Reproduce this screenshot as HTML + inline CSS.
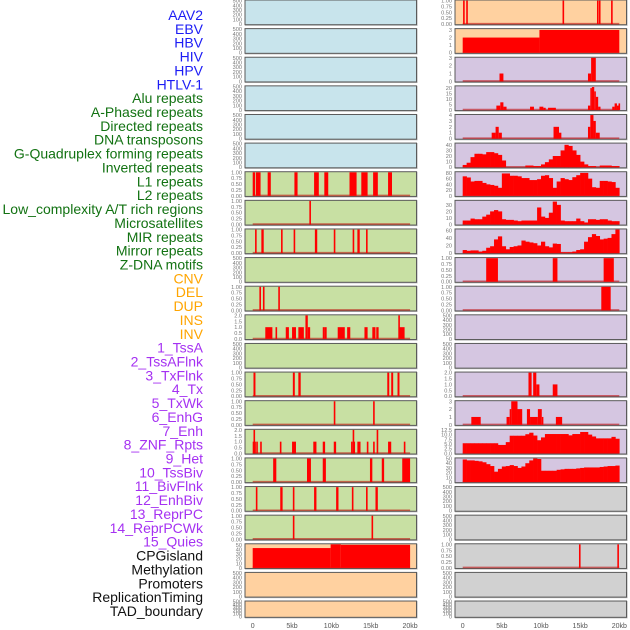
<!DOCTYPE html>
<html><head><meta charset="utf-8"><style>
html,body{margin:0;padding:0;background:#fff;width:630px;height:630px;overflow:hidden}
svg{display:block;font-family:"Liberation Sans",sans-serif}
</style></head><body>
<svg id="chart" width="630" height="630" viewBox="0 0 630 630"></svg>
<script>
// ---- data ----
const trackLabels = ["AAV2","EBV","HBV","HIV","HPV","HTLV-1","Alu repeats","A-Phased repeats","Directed repeats","DNA transposons","G-Quadruplex forming repeats","Inverted repeats","L1 repeats","L2 repeats","Low_complexity A/T rich regions","Microsatellites","MIR repeats","Mirror repeats","Z-DNA motifs","CNV","DEL","DUP","INS","INV","1_TssA","2_TssAFlnk","3_TxFlnk","4_Tx","5_TxWk","6_EnhG","7_Enh","8_ZNF_Rpts","9_Het","10_TssBiv","11_BivFlnk","12_EnhBiv","13_ReprPC","14_ReprPCWk","15_Quies","CPGisland","Methylation","Promoters","ReplicationTiming","TAD_boundary"];
const xTickLabels = ["0","5kb","10kb","15kb","20kb"];
const xTickValues = [0,5,10,15,20];
const binTicks = ["0.00","0.25","0.50","0.75","1.00"];
const emptyTicks = [0,100,200,300,400,500];

// left column interval tracks [startKb, endKb]
const l6Bars = [[0,0.3],[0.4,1.0],[1.9,2.3],[5.3,5.7],[7.8,8.4],[9.1,9.6],[12.3,13.2],[13.8,14.6],[15.3,15.9],[17.2,17.7]];
const l7Bars = [[7.2,7.4]];
const l8Bars = [[0.3,0.5],[1.1,1.4],[3.6,3.8],[5.2,5.4],[7.9,8.2],[10.3,10.5],[12.7,12.9],[13.3,13.6],[14.4,14.6]];
const l10Bars = [[0.85,1.0],[1.3,1.45],[3.25,3.4]];
const l11Segs = [[1.6,2.5,1],[2.9,3.1,1],[4.2,4.6,1],[5.0,5.5,1],[5.8,6.5,1],[6.7,7.0,2],[7.0,7.3,1],[8.9,9.1,1],[9.1,9.4,1],[10.8,11.7,1],[12.0,12.4,1],[14.2,14.6,1],[15.2,15.6,1],[15.7,16.0,1],[18.5,18.65,2],[18.65,19.3,1]];
const l13Bars = [[0.1,0.35],[5.1,5.35],[5.8,6.1],[17.1,17.35],[17.6,17.85],[18.4,18.65]];
const l14Bars = [[10.3,10.5],[15.3,15.5]];
const l15Segs = [[0,0.1,1],[0.1,0.2,2],[0.2,0.3,1],[0.45,0.6,1],[0.95,1.1,1],[3.45,3.6,1],[5.0,5.5,1],[7.7,8.1,1],[8.9,9.2,1],[10.3,10.6,1],[12.5,12.7,1],[12.7,12.8,2],[12.8,13.0,1],[13.3,13.7,1],[14.5,14.7,1],[15.3,15.5,1],[15.75,15.9,2],[17.2,17.6,1],[19.2,19.4,1]];
const l16Bars = [[2.6,3.0],[6.9,7.4],[8.9,9.3],[14.9,15.2],[16.4,16.7],[19.0,20.0]];
const l17Bars = [[0.4,0.6],[3.5,3.8],[5.1,5.3],[7.8,8.1],[10.6,10.9],[12.6,12.8],[14.4,14.6],[15.6,15.9]];
const l18Bars = [[5.1,5.3],[15.1,15.3]];
const l19Segs = [[0,9.9,43],[9.9,11.2,51],[11.2,20,50]];

// right column tracks
const r0Bars = [[0.05,0.15],[0.45,0.6],[12.75,12.9],[17.15,17.3],[17.4,17.5],[18.95,19.1]];
const r1Segs = [[0,9.8,2],[9.8,20,3]];
const r2Segs = [[4.7,5.2,1],[16.0,16.4,1],[16.4,17.0,3]];
const r3Segs = [[4.3,4.8,4],[4.8,5.2,7],[5.2,5.6,3],[8.6,9.1,3],[9.8,10.3,3],[10.3,10.6,2],[10.9,11.9,2],[16.0,16.3,4],[16.3,16.5,20],[16.5,16.8,21],[16.8,17.0,17],[17.0,17.3,12],[17.3,17.6,3],[19.1,19.4,3],[19.4,19.7,6],[19.7,19.9,4],[19.9,20.1,6]];
const r4Segs = [[3.7,4.2,1],[4.2,4.6,2],[4.6,5.0,1],[11.6,12.3,2],[12.3,12.6,1],[16.0,16.3,2],[16.3,16.7,4],[16.7,17.0,3],[17.0,17.5,1]];
const r5Bins = [4,8,18,24,24,23,27,27,25,22,12,0,0,0,0,0,3,3,2,2,5,9,14,20,20,30,40,38,30,22,10,5,2,2,0,3,3,3,2,2];
const r6Bins = [68,64,50,52,52,45,40,38,35,28,78,78,70,70,68,62,62,55,55,58,70,72,62,28,50,62,58,55,65,72,80,80,60,30,28,52,52,50,48,28];
const r7Bins = [6,6,9,8,8,12,15,20,22,20,8,7,7,6,5,6,6,6,6,26,12,10,18,35,30,6,5,5,5,9,5,3,8,8,7,8,8,6,5,5];
const r8Bins = [8,6,7,7,4,6,14,18,36,44,18,10,16,18,20,33,30,28,26,20,30,18,15,25,24,2,2,2,4,8,10,30,42,50,45,36,38,40,50,62];
const r9Bars = [[3.0,4.5],[11.5,12.1],[18.0,19.3]];
const r10Bars = [[17.7,18.9]];
const r13Segs = [[8.4,8.8,2],[9.0,9.4,2],[9.4,9.8,1],[11.5,12.1,1]];
const r14Segs = [[1.1,2.3,1],[5.6,6.0,1],[6.0,6.2,2],[6.2,7.0,3],[7.0,7.6,2],[8.2,8.6,2],[8.6,9.6,1],[9.6,10.1,2],[10.1,10.3,1],[11.9,12.7,1]];
const r15Bins = [5.4,5.4,5.4,5.4,5.4,5.4,5.4,5.4,5.4,4.5,4.5,6,9.4,9.4,9.4,9.4,10.2,11,9.5,7,8.5,10.3,10.3,10.3,10.3,10.3,10.3,9.6,10.3,10.3,11.4,11.4,10,9,8,8,8,8,8.8,7.8];
const r16Bins = [48,46,46,45,44,42,38,34,22,28,33,34,36,34,30,33,40,46,50,49,24,24,24,24,26,27,28,28,28,29,30,31,31,31,31,32,33,34,34,35];
const r19Bars = [[14.85,15.0],[19.75,19.9]];

// ---- drawing ----
const NS = "http://www.w3.org/2000/svg";
const svg = document.getElementById("chart");
function mk(tag, attrs, parent){
  const e = document.createElementNS(NS, tag);
  for (const k in attrs) e.setAttribute(k, attrs[k]);
  (parent||svg).appendChild(e);
  return e;
}
const BLUE="#c8e4ec", GREEN="#c8e0a3", ORANGE="#ffd1a0", PURPLE="#d5c6e1", GRAY="#d1d1d1";
function rowTop(r){ return r*28.62; }
function rowH(r){ return r===21 ? 16.3 : 24.7; }
function xScale(col, kb){ return col===0 ? 252.7 + kb*7.87 : 462.7 + kb*7.83; }
function yScale(r, v, ymax){ const t=rowTop(r), h=rowH(r); return t+h-0.6 - (v/ymax)*(h-1.2); }

const tracks = [];
function T(col,row,bg,kind,data,ymax,ticks){ tracks.push({col,row,bg,kind,data,ymax,ticks}); }
// left column
for (let r=0;r<6;r++) T(0,r,BLUE,"empty");
T(0,6,GREEN,"bars",l6Bars); T(0,7,GREEN,"bars",l7Bars); T(0,8,GREEN,"bars",l8Bars);
T(0,9,GREEN,"empty"); T(0,10,GREEN,"bars",l10Bars);
T(0,11,GREEN,"segs",l11Segs,2,["0.0","0.5","1.0","1.5","2.0"]);
T(0,12,GREEN,"empty"); T(0,13,GREEN,"bars",l13Bars); T(0,14,GREEN,"bars",l14Bars);
T(0,15,GREEN,"segs",l15Segs,2,["0.0","0.5","1.0","1.5","2.0"]);
T(0,16,GREEN,"bars",l16Bars); T(0,17,GREEN,"bars",l17Bars); T(0,18,GREEN,"bars",l18Bars);
T(0,19,ORANGE,"segs",l19Segs,51,["0","10","20","30","40","50"]);
T(0,20,ORANGE,"empty"); T(0,21,ORANGE,"empty");
// right column
T(1,0,ORANGE,"bars",r0Bars);
T(1,1,ORANGE,"segs",r1Segs,3.1,["0","1","2","3"]);
T(1,2,PURPLE,"segs",r2Segs,3,["0","1","2","3"]);
T(1,3,PURPLE,"segs",r3Segs,21.5,["0","5","10","15","20"]);
T(1,4,PURPLE,"segs",r4Segs,4,["0","1","2","3","4"]);
T(1,5,PURPLE,"bins",r5Bins,42,["0","10","20","30","40"]);
T(1,6,PURPLE,"bins",r6Bins,82,["0","20","40","60","80"]);
T(1,7,PURPLE,"bins",r7Bins,36,["0","10","20","30"]);
T(1,8,PURPLE,"bins",r8Bins,62,["0","20","40","60"]);
T(1,9,PURPLE,"bars",r9Bars); T(1,10,PURPLE,"bars",r10Bars);
T(1,11,PURPLE,"empty"); T(1,12,PURPLE,"empty");
T(1,13,PURPLE,"segs",r13Segs,2,["0.0","0.5","1.0","1.5","2.0"]);
T(1,14,PURPLE,"segs",r14Segs,3,["0","1","2","3"]);
T(1,15,PURPLE,"bins",r15Bins,12.5,["0.0","2.5","5.0","7.5","10.0","12.5"]);
T(1,16,PURPLE,"bins",r16Bins,50,["0","10","20","30","40","50"]);
T(1,17,GRAY,"empty"); T(1,18,GRAY,"empty"); T(1,19,GRAY,"bars",r19Bars);
T(1,20,GRAY,"empty"); T(1,21,GRAY,"empty");

tracks.forEach((tr,i)=>{
  const g = mk("g",{});
  
  
  const x0 = tr.col===0 ? 245 : 455, x1 = tr.col===0 ? 416.5 : 626.5;
  const t = rowTop(tr.row), h = rowH(tr.row);
  mk("rect",{x:x0+0.5,y:t+0.5,width:x1-x0,height:h,fill:"none",stroke:"#bbb","stroke-width":1.2},g);
  mk("rect",{x:x0,y:t,width:x1-x0,height:h,fill:tr.bg,stroke:"#5a5a5a","stroke-width":1},g);
  let ymax=1, ticks=binTicks, tickVals=[0,0.25,0.5,0.75,1];
  if (tr.kind==="empty"){ ymax=500; ticks=emptyTicks.map(String); tickVals=emptyTicks; }
  else if (tr.kind!=="bars"){ ymax=tr.ymax; ticks=tr.ticks; tickVals=tr.ticks.map(Number); }
  // baseline
  if (tr.kind!=="empty") mk("line",{x1:xScale(tr.col,0),x2:xScale(tr.col,20),y1:t+h-1,y2:t+h-1,stroke:"rgba(190,0,0,0.55)","stroke-width":1.6},g);
  // ticks
  tickVals.forEach((v,k)=>{
    const ty = yScale(tr.row, v, ymax);
    const tx = mk("text",{x:x0-3,y:ty+2,"font-size":5.6,fill:"#777","text-anchor":"end"},g);
    tx.textContent = ticks[k];
    
    
  });
  const base = yScale(tr.row,0,ymax);
  if (tr.kind==="bars"){
    tr.data.forEach(b=>{
      const xa=xScale(tr.col,b[0]), xb=xScale(tr.col,b[1]);
      const yt=yScale(tr.row,1,ymax);
      const rc = mk("rect",{x:xa,y:yt,width:Math.max(1.6,xb-xa),height:base-yt,fill:"#ff0000"},g);
      
      
    });
  } else if (tr.kind==="segs"){
    tr.data.forEach(s=>{
      const xa=xScale(tr.col,s[0]), xb=xScale(tr.col,s[1]);
      const yt=yScale(tr.row,s[2],ymax);
      const rc = mk("rect",{x:xa,y:yt,width:Math.max(1.6,xb-xa),height:base-yt,fill:"#ff0000"},g);
      
      
    });
  } else if (tr.kind==="bins"){
    tr.data.forEach((v,k)=>{
      if (v<=0) return;
      const xa=xScale(tr.col,k*0.5), xb=xScale(tr.col,(k+1)*0.5);
      const yt=yScale(tr.row,v,ymax);
      const rc = mk("rect",{x:xa,y:yt,width:xb-xa+0.3,height:base-yt,fill:"#ff0000"},g);
      
      
    });
  }
});

// left labels
const colors = i => i<6?"#1c1cf5":(i<19?"#127212":(i<24?"#ffa500":(i<39?"#a531f2":"#111")));
trackLabels.forEach((lab,i)=>{
  const tx = mk("text",{x:203,y:20+i*13.86,"font-size":14,fill:colors(i),"text-anchor":"end"});
  tx.textContent = lab;
  
  
});

// x axes
[0,1].forEach(col=>{
  xTickValues.forEach((v,k)=>{
    const tx = mk("text",{x:xScale(col,v),y:628,"font-size":7,fill:"#555","text-anchor":"middle"});
    tx.textContent = xTickLabels[k];
    
    
  });
});
</script>
</body></html>
